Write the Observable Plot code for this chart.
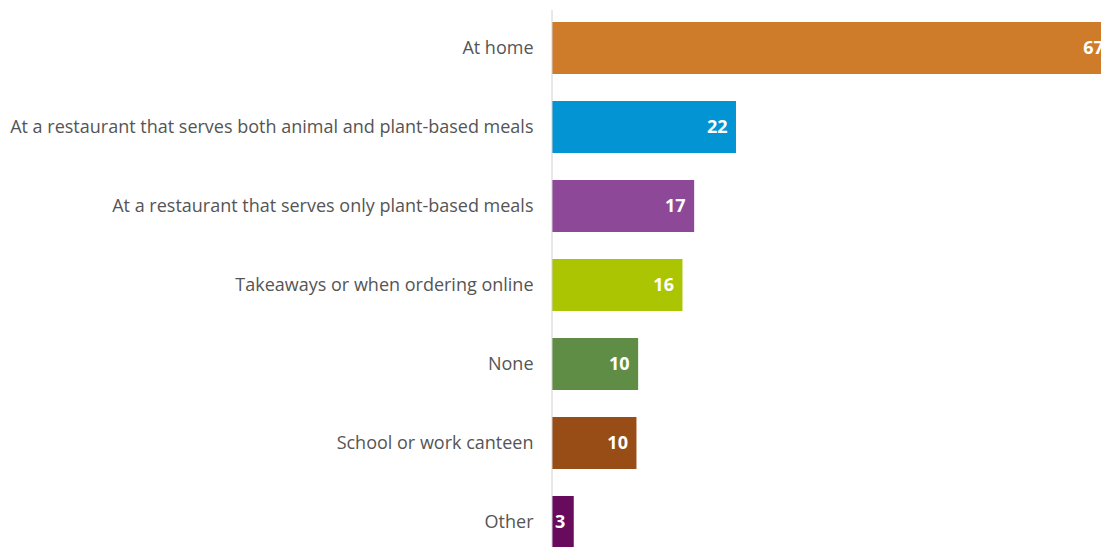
<!DOCTYPE html>
<html>
<head>
<meta charset="utf-8">
<script src="https://cdn.jsdelivr.net/npm/d3@7"></script>
<script src="https://cdn.jsdelivr.net/npm/@observablehq/plot@0.6"></script>
<style>
  html, body { margin: 0; padding: 0; background: #fff; overflow: hidden; width: 1101px; height: 547px; }
  #chart svg { display: block; }
</style>
</head>
<body>
<div id="chart"></div>
<script>
const categories = [
  "At home",
  "At a restaurant that serves both animal and plant-based meals",
  "At a restaurant that serves only plant-based meals",
  "Takeaways or when ordering online",
  "None",
  "School or work canteen",
  "Other"
];
const values = [67, 22, 17, 15.6, 10.3, 10.1, 2.6];
const colors = ["#CE7C2A", "#0394D4", "#8E4898", "#ABC502", "#608D45", "#994D16", "#680B5C"];

const data = categories.map((c, i) => ({category: c, value: values[i], color: colors[i]}));

const chart = Plot.plot({
  width: 1101,
  height: 547,
  marginLeft: 552,
  marginRight: 0,
  marginTop: 10,
  marginBottom: 0,
  style: {fontFamily: "'Open Sans', sans-serif", fontSize: "18px", color: "#555", background: "#fff"},
  x: {domain: [0, 68.4], range: [552, 1124], axis: null},
  y: {domain: categories, range: [-5, 575], padding: 0.34, label: null, tickSize: 0, tickPadding: 19},
  marks: [
    Plot.barX(data, {x: "value", y: "category", fill: "color"}),
    Plot.ruleX([0], {stroke: "#d0d0d0", strokeWidth: 1, dx: -0.5}),
    Plot.text(data, {x: "value", y: "category", text: d => String(Math.round(d.value)), fill: "#fff", fontWeight: "bold", fontSize: 18, textAnchor: "end", dx: -9})
  ]
});
document.getElementById("chart").appendChild(chart);
</script>
</body>
</html>
